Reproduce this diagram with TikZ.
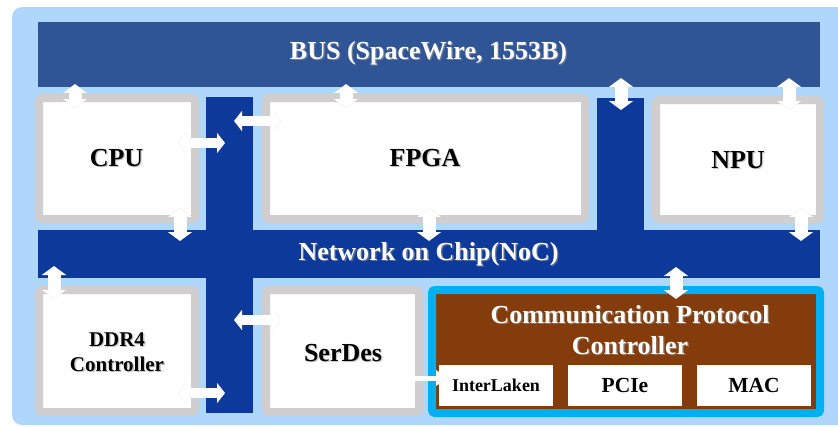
\documentclass[tikz,border=0pt]{standalone}
\usepackage{fontspec}
\setmainfont{Liberation Serif}
\usetikzlibrary{arrows.meta,calc}

\definecolor{panel}{RGB}{174,215,251}
\definecolor{busblue}{RGB}{47,85,151}
\definecolor{nocblue}{RGB}{13,57,155}
\definecolor{frame}{RGB}{208,206,206}
\definecolor{cyanframe}{RGB}{0,176,240}
\definecolor{brownfill}{RGB}{132,60,12}

% label with a soft grey drop shadow
\newcommand\shadowlabel[4][]{%
  \node[lbl,#1,text=black!40,opacity=.55] at ($(#3)+(1.3,1.3)$) {#4};
  \node[lbl,#1] (#2) at (#3) {#4};}
% white block arrow with a drop shadow
\newcommand\linkarrow[3]{%
  \draw[#1,arrowshadow] (#2) -- (#3);
  \draw[#1] (#2) -- (#3);}

\begin{document}
\begin{tikzpicture}[x=1pt,y=-1pt,
  bar/.style={rectangle, inner sep=0pt, minimum width=#1},
  unit/.style={rectangle, draw=frame, line width=8pt, fill=white,
               rounded corners=3pt, inner sep=0pt},
  sub/.style={rectangle, fill=white, inner sep=0pt,
              minimum width=114pt, minimum height=41pt},
  lbl/.style={font=\fontsize{26}{31}\selectfont\bfseries, align=center, inner sep=0pt},
  dblv/.style={white, line width=13pt,
    {Triangle[length=9pt 0 0,width=24pt 0 0]}-{Triangle[length=9pt 0 0,width=24pt 0 0]}},
  dblh/.style={white, line width=10pt,
    {Triangle[length=8pt 0 0,width=20pt 0 0]}-{Triangle[length=8pt 0 0,width=20pt 0 0]}},
  oneway/.style={white, line width=5pt, -{Triangle[length=13pt 0 0,width=15pt 0 0]}},
  arrowshadow/.style={color=black, opacity=.25, shift={(1.5,1.8)}},
]
\useasboundingbox (0,0) rectangle (838,426);

% background panel
\fill[panel, rounded corners=10pt] (12,7) rectangle (860,425);

% interconnect fabric
\node[bar=47pt, minimum height=316pt, fill=nocblue] (colL) at (229.5,255) {};
\node[bar=47pt, minimum height=132pt, fill=nocblue] (colR) at (620.5,164) {};
\node[bar=782pt, minimum height=65pt, fill=busblue] (bus) at (429,54.5) {};
\node[bar=782pt, minimum height=48pt, fill=nocblue] (noc) at (429,254) {};

% processing units
\node[unit, minimum width=156pt, minimum height=121pt] (cpu)  at (117,158.5) {};
\node[unit, minimum width=319pt, minimum height=121pt] (fpga) at (425.5,158.5) {};
\node[unit, minimum width=164pt, minimum height=119pt] (npu)  at (738,159.5) {};
\node[unit, minimum width=156pt, minimum height=122pt] (ddr)  at (117,351) {};
\node[unit, minimum width=153pt, minimum height=122pt] (serdes) at (342.5,351) {};
\node[unit, draw=cyanframe, fill=brownfill, minimum width=388pt,
      minimum height=123pt] (cpc) at (626,351.5) {};

% protocol blocks
\node[sub] (ilk)  at (496,385.5) {};
\node[sub] (pcie) at (625,385.5) {};
\node[sub] (mac)  at (754,385.5) {};

% connector end points
\coordinate (bc1) at (75,84);   \coordinate (bc2) at (75,108);
\coordinate (bf1) at (346,84);  \coordinate (bf2) at (346,108);
\coordinate (br1) at (621,78);  \coordinate (br2) at (621,110);
\coordinate (bn1) at (789,78);  \coordinate (bn2) at (789,110);
\coordinate (cl1) at (178,143); \coordinate (cl2) at (225,143);
\coordinate (lf1) at (234,121); \coordinate (lf2) at (281,121);
\coordinate (cn1) at (180,208); \coordinate (cn2) at (180,241);
\coordinate (fn1) at (429,208); \coordinate (fn2) at (429,241);
\coordinate (nn1) at (801,208); \coordinate (nn2) at (801,241);
\coordinate (nd1) at (54,266);  \coordinate (nd2) at (54,299);
\coordinate (ls1) at (234,320); \coordinate (ls2) at (281,320);
\coordinate (dl1) at (178,393); \coordinate (dl2) at (225,393);
\coordinate (np1) at (676,267); \coordinate (np2) at (676,299);
\coordinate (si1) at (398,378); \coordinate (si2) at (449,378);

\linkarrow{dblv}{bc1}{bc2}
\linkarrow{dblv}{bf1}{bf2}
\linkarrow{dblv}{br1}{br2}
\linkarrow{dblv}{bn1}{bn2}
\linkarrow{dblh}{cl1}{cl2}
\linkarrow{dblh}{lf1}{lf2}
\linkarrow{dblv}{cn1}{cn2}
\linkarrow{dblv}{fn1}{fn2}
\linkarrow{dblv}{nn1}{nn2}
\linkarrow{dblv}{nd1}{nd2}
\linkarrow{dblh}{ls1}{ls2}
\linkarrow{dblh}{dl1}{dl2}
\linkarrow{dblv}{np1}{np2}
\linkarrow{oneway}{si1}{si2}

% labels
\shadowlabel[text=white]{tbus}{428.5,53}{BUS (SpaceWire, 1553B)}
\shadowlabel[text=white]{tnoc}{428.5,254}{Network on Chip(NoC)}
\shadowlabel{tcpu}{116.5,158}{CPU}
\shadowlabel{tfpga}{425,158}{FPGA}
\shadowlabel{tnpu}{738,160}{NPU}
\shadowlabel[font=\fontsize{21}{25}\selectfont\bfseries]{tddr}{117,352}{DDR4\\Controller}
\shadowlabel{tser}{343,353}{SerDes}
\shadowlabel[text=white]{tcpc}{630,330}{Communication Protocol\\Controller}
\node[lbl, font=\fontsize{18}{22}\selectfont\bfseries] (tilk) at (ilk) {InterLaken};
\node[lbl, font=\fontsize{21.5}{25}\selectfont\bfseries] (tpcie) at (pcie) {PCIe};
\node[lbl, font=\fontsize{21.5}{25}\selectfont\bfseries] (tmac) at (mac) {MAC};
\end{tikzpicture}
\end{document}
